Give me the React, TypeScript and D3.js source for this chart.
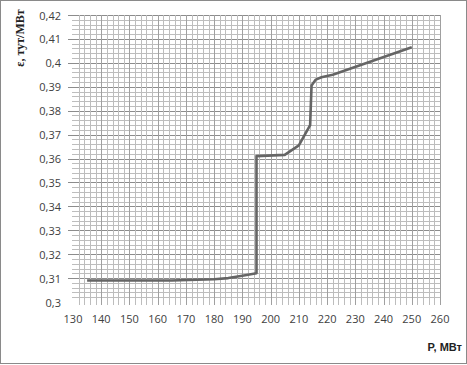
import React from "react";
import * as d3 from "d3";

const W = 467;
const H = 365;

// Data
const powerMW = [135, 165, 180, 185, 190, 195, 195, 205, 210, 214, 214.5, 216, 218, 222, 250];
const specificFuel = [0.309, 0.309, 0.3095, 0.31, 0.311, 0.312, 0.361, 0.3615, 0.3655, 0.374, 0.3905, 0.393, 0.394, 0.395, 0.4065];

const xTickLabels = [130, 140, 150, 160, 170, 180, 190, 200, 210, 220, 230, 240, 250, 260];
const yTickLabels = [0.3, 0.31, 0.32, 0.33, 0.34, 0.35, 0.36, 0.37, 0.38, 0.39, 0.4, 0.41, 0.42];

const xMinor = d3.range(132, 261, 2);
const yMinor = d3.range(151, 211).map((k) => k * 0.002);

const fmt = (v: number) => {
  const s = String(+v.toFixed(3));
  return s.replace(".", ",");
};

export default function App() {
  const x = d3.scaleLinear().domain([130, 260]).range([73, 440]);
  const y = d3.scaleLinear().domain([0.3, 0.42]).range([302, 15]);
  const line = d3
    .line<number>()
    .x((_, i) => x(powerMW[i]))
    .y((d) => y(d));

  const isMajorX = (v: number) => Math.abs(v % 10) < 1e-6;
  const isMajorY = (v: number) => Math.abs(Math.round(v * 1000) % 10) < 1e-6;

  return (
    <svg
      width={W}
      height={H}
      style={{ position: "absolute", left: 0, top: 0, background: "#fff" }}
      fontFamily="'Open Sans', 'Liberation Sans', sans-serif"
    >
      <rect x={0.5} y={0.5} width={W - 1} height={H - 2} fill="#fff" stroke="#8a8a8a" />
      <g shapeRendering="crispEdges">
        {yMinor.map((v) => {
          const major = isMajorY(v);
          return (
            <line
              key={"h" + v}
              x1={x(130) - (major ? 5 : 1)}
              x2={x(260)}
              y1={Math.round(y(v)) + 0.5}
              y2={Math.round(y(v)) + 0.5}
              stroke={major ? "#8c8c8c" : "#bdbdbd"}
              strokeWidth={1}
            />
          );
        })}
        {xMinor.map((v) => {
          const major = isMajorX(v);
          return (
            <line
              key={"v" + v}
              x1={Math.round(x(v)) + 0.5}
              x2={Math.round(x(v)) + 0.5}
              y1={y(0.42)}
              y2={y(0.3) + 3}
              stroke={major ? "#a0a0a0" : "#bdbdbd"}
              strokeWidth={1}
            />
          );
        })}
      </g>
      <path
        d={line(specificFuel) || ""}
        fill="none"
        stroke="#656565"
        strokeWidth={2.6}
        strokeLinejoin="round"
      />
      <g fontSize={11} fill="#404040">
        {yTickLabels.map((v) => (
          <text key={"yl" + v} x={61} y={y(v)} textAnchor="end" dominantBaseline="central">
            {fmt(v)}
          </text>
        ))}
        {xTickLabels.map((v) => (
          <text key={"xl" + v} x={x(v)} y={323} textAnchor="middle">
            {v}
          </text>
        ))}
      </g>
      <text
        x={462}
        y={351}
        textAnchor="end"
        fontSize={11}
        fontWeight="bold"
        fill="#222"
        fontFamily="'Liberation Sans', sans-serif"
      >
        P, МВт
      </text>
      <text
        transform={`translate(24, 38) rotate(-90)`}
        textAnchor="middle"
        fontSize={12}
        fontWeight="bold"
        fill="#222"
        fontFamily="'Liberation Serif', serif"
      >
        ε, тут/МВт
      </text>
    </svg>
  );
}
